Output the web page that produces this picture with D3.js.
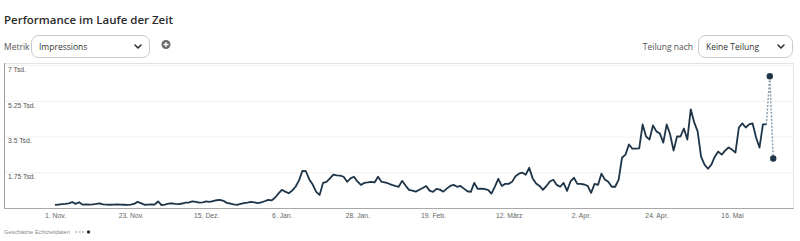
<!DOCTYPE html>
<html>
<head>
<meta charset="utf-8">
<script src="https://cdn.jsdelivr.net/npm/d3@7"></script>
<style>
  html, body { margin: 0; padding: 0; background: #fff; }
  svg { display: block; }
</style>
</head>
<body>
<svg id="chart" width="800" height="241"></svg>
<script>
// ---- data ----
const startDate = "2023-11-01";
// daily impressions (solid line)
const impressions = [
  150,170,190,200,230,290,200,280,170,180,
  170,180,200,230,180,170,160,170,180,170,
  160,150,170,200,300,240,160,170,180,170,
  320,140,170,210,230,200,190,220,260,270,
  320,300,260,280,320,300,340,380,400,350,
  250,220,180,150,200,240,260,300,280,240,
  280,330,400,370,500,700,890,800,720,850,
  1040,1350,1820,1800,1400,1150,790,640,1230,1280,
  1450,1630,1600,1580,1530,1280,1450,1530,1300,1130,
  1230,1250,1280,1250,1530,1280,1250,1200,1130,1080,
  1040,1330,1100,890,850,800,890,980,1080,850,
  790,940,900,800,950,1080,1130,1040,1080,950,
  820,790,1230,940,950,930,890,700,1050,1430,
  1080,1180,1180,1280,1550,1680,1730,1630,1970,1450,
  1200,1080,890,1080,1300,1380,1130,1040,1230,840,
  1300,1480,1180,1180,1150,1080,740,1180,1130,1680,
  1400,1280,1040,1040,1380,2460,2610,3110,2910,2910,
  2920,4090,3500,3350,4040,3750,3650,3200,4090,3600,
  2810,3500,3500,3890,3350,4830,4190,3750,2510,2120,
  1920,2120,2510,2760,2610,2810,2960,2860,2710,3940,
  4140,3940,4090,4140,3450,2960,4090,4090
];
// estimated real-time values (dashed continuation)
const estimated = [6450, 2420];

const xTickDates = ["2023-11-01","2023-11-23","2023-12-15","2024-01-06","2024-01-28",
                    "2024-02-19","2024-03-12","2024-04-02","2024-04-24","2024-05-16"];
const xTickLabels = ["1. Nov.","23. Nov.","15. Dez.","6. Jan.","28. Jan.",
                     "19. Feb.","12. März","2. Apr.","24. Apr.","16. Mai"];
const yTickValues = [1750, 3500, 5250, 7000];
const yTickLabels = ["1.75 Tsd.", "3.5 Tsd.", "5.25 Tsd.", "7 Tsd."];

// ---- build ----
const parse = d3.utcParse("%Y-%m-%d");
const t0 = parse(startDate);
const solid = impressions.map((v, i) => ({ date: d3.utcDay.offset(t0, i), value: v }));
const est = estimated.map((v, i) => ({ date: d3.utcDay.offset(t0, impressions.length + i), value: v }));
const dashed = [solid[solid.length - 1]].concat(est);

const svg = d3.select("#chart");
const uiFont = "'Open Sans', 'Noto Sans', sans-serif";
const axFont = "'Liberation Sans', Arial, sans-serif";

const box = { left: 4, right: 793, top: 63, bottom: 208 };

const x = d3.scaleUtc()
  .domain([parse(xTickDates[0]), parse(xTickDates[xTickDates.length - 1])])
  .range([55, 732]);
const y = d3.scaleLinear().domain([0, 7000]).range([208, 65]);

// ---- header ----
svg.append("text")
  .attr("x", 4).attr("y", 24)
  .attr("font-family", uiFont).attr("font-size", 11.5).attr("font-weight", 600)
  .attr("fill", "#2b2b2b")
  .text("Performance im Laufe der Zeit");

function dropdown(g, x0, w, label) {
  g.append("rect")
    .attr("x", x0 + 0.5).attr("y", 35.5).attr("width", w).attr("height", 22)
    .attr("rx", 7).attr("fill", "#fff").attr("stroke", "#c9c9c9");
  g.append("text")
    .attr("x", x0 + 8).attr("y", 49.5)
    .attr("font-family", uiFont).attr("font-size", 8.5).attr("fill", "#333")
    .text(label);
  const cx = x0 + w - 11, cy = 46.5;
  g.append("path")
    .attr("d", `M${cx - 3},${cy - 1.5} L${cx},${cy + 1.5} L${cx + 3},${cy - 1.5}`)
    .attr("fill", "none").attr("stroke", "#333").attr("stroke-width", 1.6)
    .attr("stroke-linecap", "round").attr("stroke-linejoin", "round");
}

svg.append("text")
  .attr("x", 4).attr("y", 49.5)
  .attr("font-family", uiFont).attr("font-size", 8.5).attr("fill", "#555")
  .text("Metrik");
dropdown(svg.append("g"), 31, 118, "Impressions");

// plus icon
svg.append("circle").attr("cx", 166).attr("cy", 44.5).attr("r", 4.5).attr("fill", "#6b6b6b");
svg.append("path")
  .attr("d", "M163.5,44.5 H168.5 M166,42 V47")
  .attr("stroke", "#fff").attr("stroke-width", 1.3);

svg.append("text")
  .attr("x", 693).attr("y", 49.5).attr("text-anchor", "end")
  .attr("font-family", uiFont).attr("font-size", 8.5).attr("fill", "#555")
  .text("Teilung nach");
dropdown(svg.append("g"), 698, 94, "Keine Teilung");

// ---- plot frame ----
svg.append("rect")
  .attr("x", box.left + 0.5).attr("y", box.top + 0.5)
  .attr("width", box.right - box.left).attr("height", box.bottom - box.top)
  .attr("fill", "#fff").attr("stroke", "#e3e3e3");

// gridlines
const grid = svg.append("g")
  .attr("transform", `translate(${box.left},0)`)
  .call(d3.axisRight(y).tickValues(yTickValues).tickSize(box.right - box.left).tickFormat(""));
grid.select(".domain").remove();
grid.selectAll("line").attr("stroke", "#f0f0f0");

// left & bottom lines
svg.append("line")
  .attr("x1", box.left + 0.5).attr("x2", box.left + 0.5)
  .attr("y1", box.top).attr("y2", box.bottom)
  .attr("stroke", "#9e9e9e");
svg.append("line")
  .attr("x1", box.left).attr("x2", box.right + 0.5)
  .attr("y1", box.bottom + 0.5).attr("y2", box.bottom + 0.5)
  .attr("stroke", "#a8a8a8");

// y labels
const yAx = svg.append("g")
  .attr("transform", `translate(${box.left},0)`)
  .call(d3.axisRight(y).tickValues(yTickValues).tickSize(0).tickPadding(4)
    .tickFormat((d, i) => yTickLabels[i]));
yAx.select(".domain").remove();
yAx.selectAll("text")
  .attr("font-family", axFont).attr("font-size", 6.8).attr("fill", "#555")
  .attr("dy", "0.95em");

// x labels
const xAx = svg.append("g")
  .attr("transform", `translate(0,${box.bottom})`)
  .call(d3.axisBottom(x).tickValues(xTickDates.map(parse)).tickSize(0).tickPadding(5)
    .tickFormat((d, i) => xTickLabels[i]));
xAx.select(".domain").remove();
xAx.selectAll("text")
  .attr("font-family", axFont).attr("font-size", 6.8).attr("fill", "#666");

// ---- lines ----
const line = d3.line().x(d => x(d.date)).y(d => y(d.value));

svg.append("path")
  .datum(dashed)
  .attr("d", line)
  .attr("fill", "none").attr("stroke", "#8da0b0").attr("stroke-width", 1.5)
  .attr("stroke-dasharray", "2,1.5");

svg.append("path")
  .datum(solid)
  .attr("d", line)
  .attr("fill", "none").attr("stroke", "#1e3448").attr("stroke-width", 1.8)
  .attr("stroke-linejoin", "round");

svg.selectAll(".est")
  .data(est).enter().append("circle")
  .attr("cx", d => x(d.date)).attr("cy", d => y(d.value)).attr("r", 3.2)
  .attr("fill", "#1e3448");

// ---- legend ----
svg.append("text")
  .attr("x", 4).attr("y", 234)
  .attr("font-family", axFont).attr("font-size", 5.8).attr("fill", "#8a8a8a")
  .text("Geschätzte Echtzeitdaten");
svg.append("line")
  .attr("x1", 75).attr("x2", 86).attr("y1", 232).attr("y2", 232)
  .attr("stroke", "#8da0b0").attr("stroke-width", 1.2).attr("stroke-dasharray", "2,1.5");
svg.append("circle").attr("cx", 88.5).attr("cy", 232).attr("r", 1.7).attr("fill", "#1e3448");
</script>
</body>
</html>
